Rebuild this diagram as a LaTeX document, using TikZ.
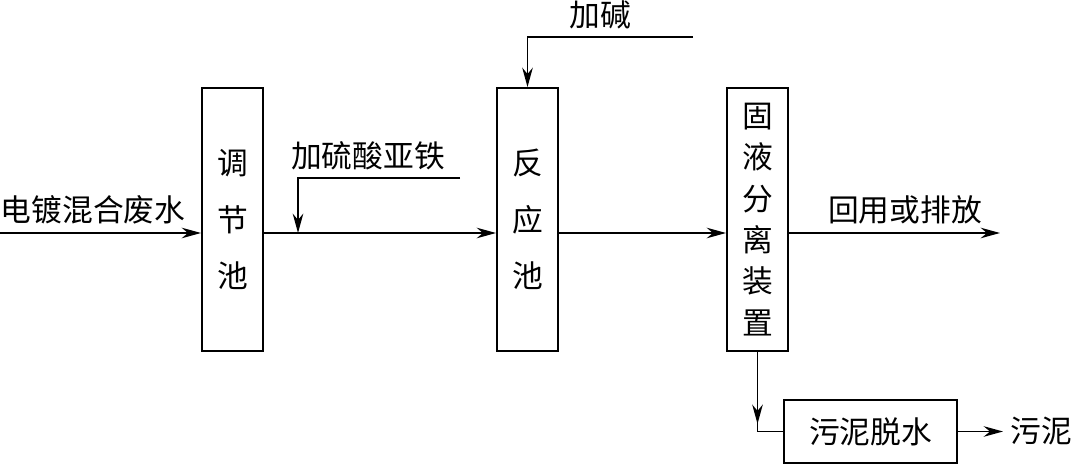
\documentclass[tikz,border=0pt]{standalone}
\usepackage{fontspec}
\newfontfamily\cjk{Noto Sans CJK SC}
\usetikzlibrary{arrows.meta,positioning}

\begin{document}
\begin{tikzpicture}[x=0.02cm,y=-0.02cm,line width=1.1pt,
  tank/.style={draw,minimum width=1.22cm,minimum height=5.26cm,inner sep=0pt,align=center},
  label/.style={font=\cjk\fontsize{17.5}{20}\selectfont,inner sep=0pt},
  flow/.style={-{Stealth[length=11pt,width=6pt]}}]
\useasboundingbox (0,0) rectangle (1074,465);
% tanks
\node[tank,font=\cjk\fontsize{17.5}{32}\selectfont] (tj) at (232.5,219.5) {调\\节\\池};
\node[tank,font=\cjk\fontsize{17.5}{32}\selectfont] (fy) at (527.5,219.5) {反\\应\\池};
\node[tank,font=\cjk\fontsize{17.5}{23.5}\selectfont] (gy) at (757.5,219.5) {固\\液\\分\\离\\装\\置};
\node[draw,minimum width=3.46cm,minimum height=1.26cm,inner sep=0pt,font=\cjk\fontsize{17.5}{20}\selectfont] (wn) at (870.5,431.5) {污泥脱水};
% main line
\coordinate (in) at (0,233);
\coordinate (out) at (1000,233);
\node[label,anchor=west] (raw) at (0,210) {电镀混合废水};
\draw[flow] (in) -- (in -| tj.west);
\draw[flow] (tj.east |- in) -- (in -| fy.west);
\draw[flow] (fy.east |- in) -- (in -| gy.west);
\draw[flow] (gy.east |- in) -- (out);
\node[label] (reuse) at (905,210) {回用或排放};
% dosing
\coordinate (fe) at (460,178);
\coordinate (feIn) at (298,233);
\node[label] (feTxt) at (368,156) {加硫酸亚铁};
\draw[flow] (fe) -| (feIn);
\coordinate (base) at (693,37);
\node[label] (baseTxt) at (600,15) {加碱};
\draw[flow] (base) -| (fy.north);
% sludge
\draw[flow] (gy.south) -- ++(0,72);
\draw (gy.south) |- (wn.west);
\coordinate (sl) at (1003,431.5);
\draw[flow] (wn.east) -- (sl);
\node[label,anchor=west] (slTxt) at (1010,431.5) {污泥};
\end{tikzpicture}
\end{document}
